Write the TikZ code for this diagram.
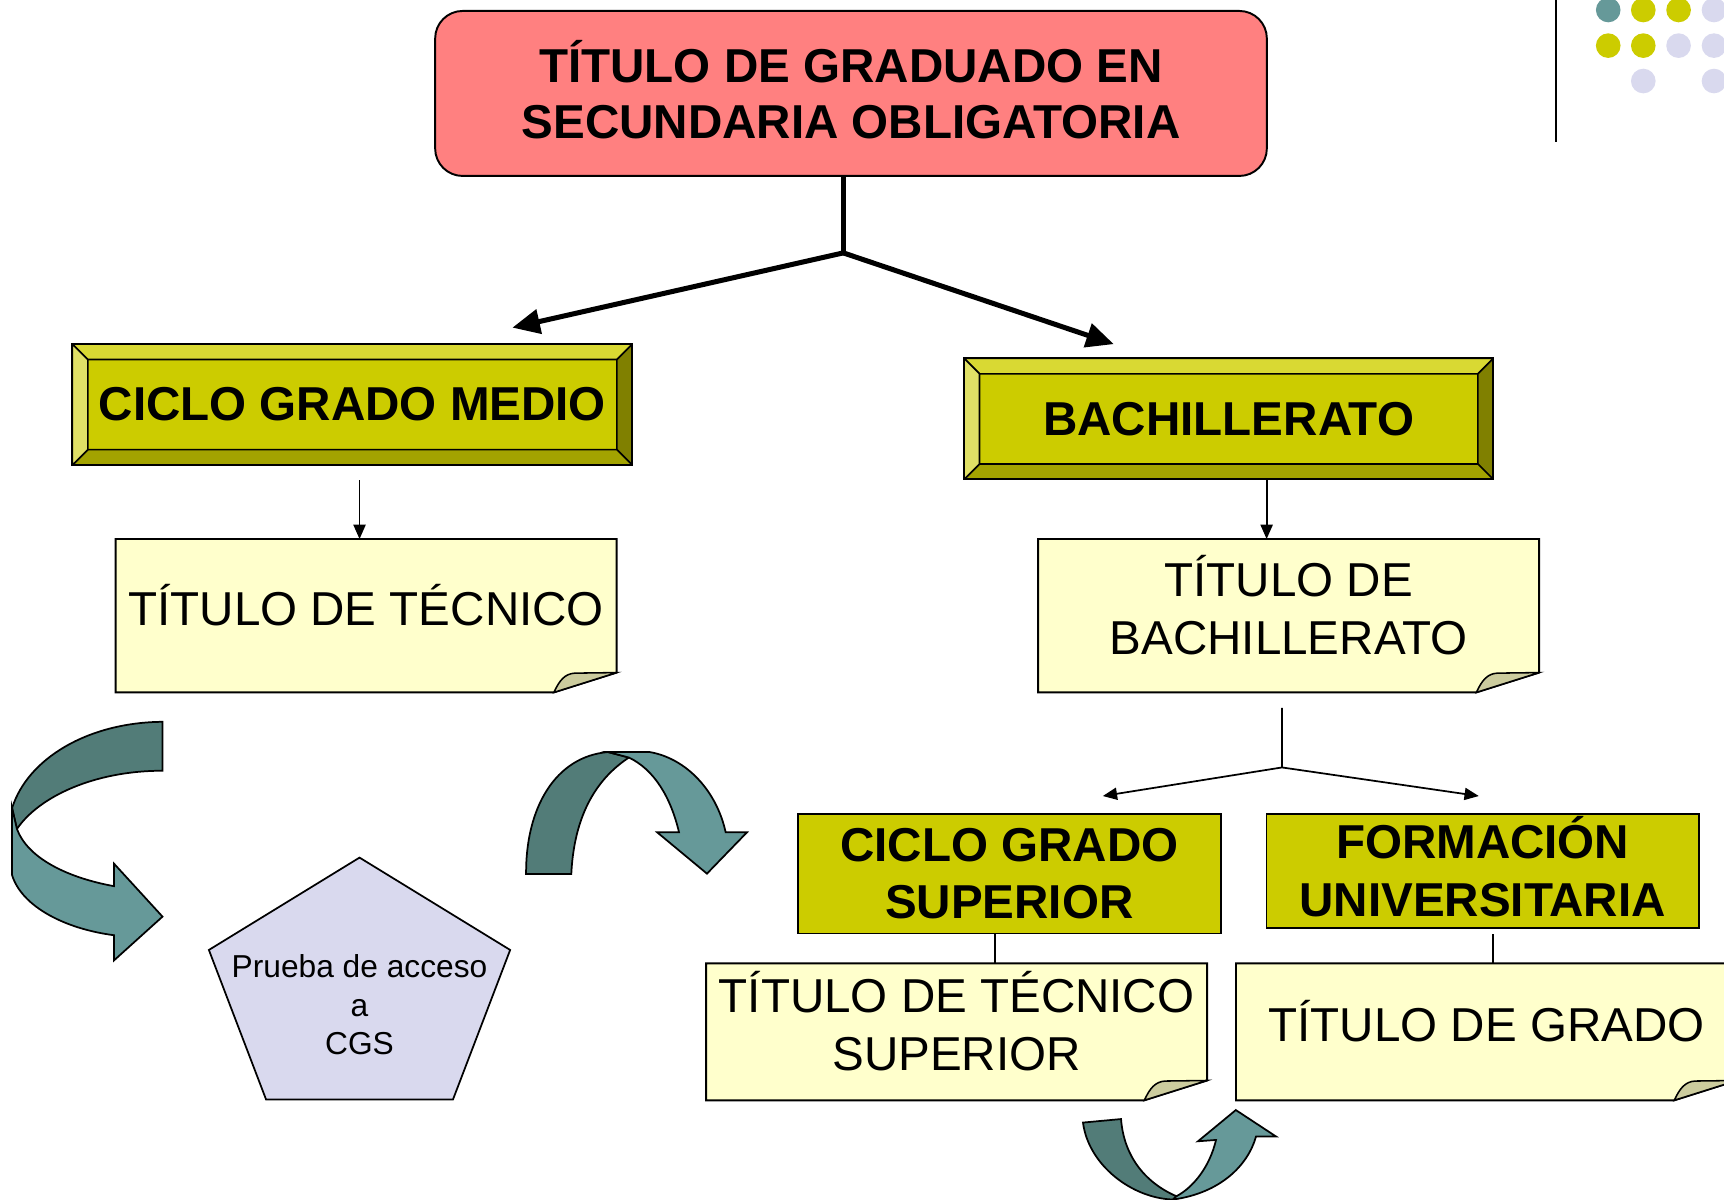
\documentclass[tikz,border=0pt]{standalone}
\usepackage{fontspec}
\setmainfont{Liberation Sans}
\usepackage{xcolor}
\usepackage{tikz}
\usetikzlibrary{arrows.meta,backgrounds,positioning,calc}

\definecolor{rosa}{HTML}{FF8080}
\definecolor{oliva}{HTML}{CCCC00}
\definecolor{olivasup}{HTML}{D9D933}
\definecolor{olivaizq}{HTML}{E0E066}
\definecolor{olivainf}{HTML}{A3A300}
\definecolor{olivader}{HTML}{808000}
\definecolor{crema}{HTML}{FFFFCC}
\definecolor{pliegue}{HTML}{CCCC9E}
\definecolor{lavanda}{HTML}{D9D9EE}
\definecolor{verdeosc}{HTML}{527C78}
\definecolor{verdecla}{HTML}{669999}

\newcommand{\biselancho}{0.14cm}
\newcommand{\letragrande}{\fontsize{12.3}{14.9}\selectfont}

\begin{document}
\begin{tikzpicture}[
    x=0.01cm, y=-0.01cm,% y hacia abajo
    cabecera/.style={
        rounded corners=0.25cm,
        draw=black, line width=0.5pt, fill=rosa,
        minimum width=7.56cm, minimum height=1.5cm,
        inner sep=0pt, align=center, text depth=0.07cm,
        font=\bfseries\fontsize{12.3}{14.65}\selectfont},
    bisel/.style={
        draw=black, line width=0.5pt, fill=oliva,
        minimum height=1.1cm, inner sep=0pt,
        font=\bfseries\letragrande,
        % las cuatro caras del bisel
        path picture={
            \coordinate (bA) at (path picture bounding box.north west);
            \coordinate (bB) at (path picture bounding box.north east);
            \coordinate (bC) at (path picture bounding box.south east);
            \coordinate (bD) at (path picture bounding box.south west);
            \coordinate (ba) at ([shift={(\biselancho,-\biselancho)}]bA);
            \coordinate (bb) at ([shift={(-\biselancho,-\biselancho)}]bB);
            \coordinate (bc) at ([shift={(-\biselancho,\biselancho)}]bC);
            \coordinate (bd) at ([shift={(\biselancho,\biselancho)}]bD);
            \filldraw[fill=olivasup,line width=0.4pt] (bA) -- (bB) -- (bb) -- (ba) -- cycle;
            \filldraw[fill=olivader,line width=0.4pt] (bB) -- (bC) -- (bc) -- (bb) -- cycle;
            \filldraw[fill=olivainf,line width=0.4pt] (bC) -- (bD) -- (bd) -- (bc) -- cycle;
            \filldraw[fill=olivaizq,line width=0.4pt] (bD) -- (bA) -- (ba) -- (bd) -- cycle;
        }},
    caja/.style={
        draw=black, line width=0.5pt, fill=oliva,
        inner sep=0pt, align=center,
        font=\bfseries\letragrande},
    nota/.style={
        minimum width=4.54cm, inner sep=0pt,
        align=center, text depth=0.2cm, font=\letragrande},
    notafondo/.style={draw=black, line width=0.5pt, fill=crema},
    doblez/.style={draw=black, line width=0.4pt, fill=pliegue},
    gruesa/.style={line width=1.3pt},
    gruesaflecha/.style={line width=1.3pt, -{Triangle[length=0.25cm,width=0.22cm]}},
    fina/.style={line width=0.45pt},
    finaflecha/.style={line width=0.45pt, -{Triangle[length=0.13cm,width=0.11cm]}},
    cinta/.style={draw=black, line width=0.45pt}
  ]
  \useasboundingbox (0,0) rectangle (1568,1091);

  % nodos
  \node (titulo) [cabecera] at (774,85) {TÍTULO DE GRADUADO EN\\SECUNDARIA OBLIGATORIA};
  \node (cgm) [bisel, minimum width=5.09cm] at (320.5,368) {CICLO GRADO MEDIO};
  \node (bach) [bisel, minimum width=4.81cm] at (1117.5,381) {BACHILLERATO};
  \node (tecnico) [nota, minimum height=1.38cm] at (333,560) {TÍTULO DE TÉCNICO};
  \node (titbach) [nota, minimum height=1.38cm] at (1172,560) {TÍTULO DE\\BACHILLERATO};
  \node (cgs) [caja, minimum width=3.84cm, minimum height=1.09cm] at (918,794.5) {CICLO GRADO\\SUPERIOR};
  \node (univ) [caja, minimum width=3.93cm, minimum height=1.04cm, text depth=0.08cm] at (1348.5,792) {FORMACIÓN\\UNIVERSITARIA};
  \node (tecsup) [nota, minimum height=1.23cm] at (870,938.5) {TÍTULO DE TÉCNICO\\SUPERIOR};
  \node (grado) [nota, minimum height=1.23cm] at (1352,938.5) {TÍTULO DE GRADO};

  % hojas con la esquina doblada
  \begin{scope}[on background layer]
    \foreach \n in {tecnico,titbach,tecsup,grado}{
      \filldraw[notafondo] (\n.north west) -- (\n.north east) -- ([yshift=0.18cm]\n.south east)
        -- ([xshift=-0.57cm]\n.south east) -- (\n.south west) -- cycle;
      \filldraw[doblez] ([xshift=-0.57cm]\n.south east)
        .. controls ([xshift=-0.52cm,yshift=0.11cm]\n.south east) and ([xshift=-0.47cm,yshift=0.17cm]\n.south east)
        .. ([xshift=-0.38cm,yshift=0.175cm]\n.south east) -- ([yshift=0.18cm]\n.south east) -- cycle;
    }
  \end{scope}

  % pentagono
  \filldraw[draw=black, line width=0.45pt, fill=lavanda]
    (327,780) -- (464,864) -- (412,1000) -- (242,1000) -- (190,864) -- cycle;
  \node (prueba) [align=center, inner sep=0pt, font=\fontsize{8.2}{9.9}\selectfont] at (327,914)
    {Prueba de acceso\\a\\CGS};

  % conectores
  \coordinate (rama) at (767,230);
  \coordinate (puntaizq) at (466,298);
  \coordinate (puntader) at (1013,313);
  \draw[gruesa] (rama |- titulo.south) -- (rama);
  \draw[gruesaflecha] (rama) -- (puntaizq);
  \draw[gruesaflecha] (rama) -- (puntader);

  \coordinate (cgmsal) at ([xshift=0.065cm,yshift=-0.13cm]cgm.south);
  \draw[finaflecha] (cgmsal) -- (cgmsal |- tecnico.north);
  \coordinate (bachsal) at ([xshift=0.345cm]bach.south);
  \draw[finaflecha] (bachsal) -- (bachsal |- titbach.north);

  \coordinate (titsal) at ([xshift=-0.06cm,yshift=-0.14cm]titbach.south);
  \coordinate (rama2) at (1166,698);
  \coordinate (puntacgs) at (1003,724);
  \coordinate (puntauniv) at (1345,724);
  \draw[fina] (titsal) -- (rama2);
  \draw[finaflecha] (rama2) -- (puntacgs);
  \draw[finaflecha] (rama2) -- (puntauniv);

  \coordinate (cgssal) at ([xshift=-0.13cm]cgs.south);
  \draw[fina] (cgssal) -- (cgssal |- tecsup.north);
  \coordinate (univsal) at ([xshift=0.095cm,yshift=-0.05cm]univ.south);
  \draw[fina] (univsal) -- (univsal |- grado.north);

  % flechas curvas
  \filldraw[cinta, fill=verdeosc] (147.8,656.5) .. controls (80,657) and (25,690) .. (11,735)
    -- (15.4,754) .. controls (35,725) and (85,701) .. (147.8,701) -- cycle;
  \filldraw[cinta, fill=verdecla] (11,735) -- (11,796) .. controls (20,825) and (60,845) .. (103.7,850.6)
    -- (103.7,873.5) -- (147.8,833.7) -- (103.7,785.5) -- (103.7,806)
    .. controls (60,798) and (25,780) .. (15.4,754) -- cycle;

  \filldraw[cinta, fill=verdeosc] (478.5,795) .. controls (478,735) and (505,688) .. (553,684)
    -- (572,689) .. controls (540,710) and (522,745) .. (519.6,795) -- cycle;
  \filldraw[cinta, fill=verdecla] (553,684) -- (591,684) .. controls (625,690) and (652,720) .. (660,757)
    -- (679.4,757) -- (643,794.6) -- (597.7,757) -- (617.6,757)
    .. controls (610,725) and (595,700) .. (572,689) -- cycle;

  \filldraw[cinta, fill=verdeosc] (985,1021) .. controls (990,1060) and (1030,1090) .. (1067,1091)
    -- (1070,1088) .. controls (1040,1075) and (1022,1050) .. (1019.6,1017.8) -- cycle;
  \filldraw[cinta, fill=verdecla] (1067,1091) .. controls (1110,1085) and (1135,1060) .. (1142.4,1033.6)
    -- (1160.5,1033.6) -- (1124,1009.6) -- (1089.6,1038) -- (1106,1036.8)
    .. controls (1100,1062) and (1085,1080) .. (1070,1088) -- cycle;

  % adorno de la esquina
  \draw[line width=0.5pt] (1415,0) -- (1415,129);
  \foreach \x/\y/\c in {1462.7/9.1/verdecla, 1494.6/9.1/oliva, 1526.7/9.1/oliva, 1558.9/9.1/lavanda,
                        1462.7/41.5/oliva, 1494.6/41.5/oliva, 1526.7/41.5/lavanda, 1558.9/41.5/lavanda,
                        1494.6/73.7/lavanda, 1558.9/73.7/lavanda}
    \fill[\c] (\x,\y) circle (0.112cm);
\end{tikzpicture}
\end{document}
